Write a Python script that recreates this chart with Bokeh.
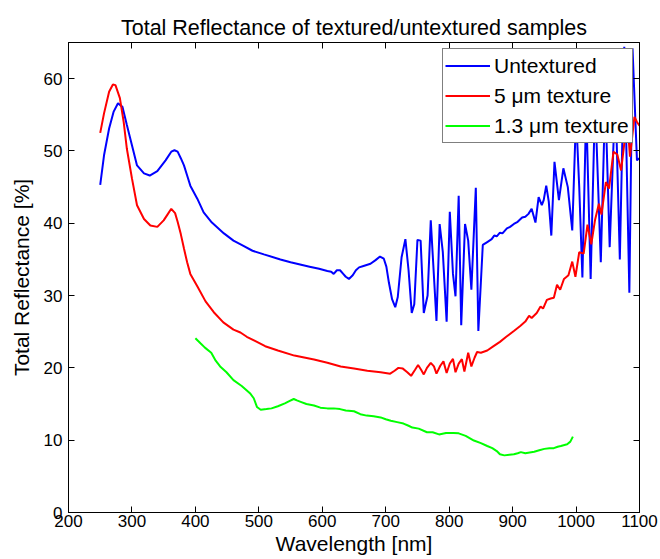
from bokeh.plotting import figure
from bokeh.models import LinearAxis, Range1d, FixedTicker, Legend, LegendItem
from bokeh.embed import file_html
from bokeh.resources import INLINE

title_text = "Total Reflectance of textured/untextured samples"
x_label = "Wavelength [nm]"
y_label = "Total Reflectance [%]"
series_names = ["Untextured", "5 \u03bcm texture", "1.3 \u03bcm texture"]
x_ticks = [200, 300, 400, 500, 600, 700, 800, 900, 1000, 1100]
y_ticks = [0, 10, 20, 30, 40, 50, 60]

blue_wl = [250, 256, 264, 271, 278, 285, 292, 300, 308, 319, 328, 340, 353, 362, 367, 372, 377, 382, 387, 392,
           403, 413, 426, 445, 460, 475, 490, 508, 534, 550, 565, 580, 595, 608, 614, 618, 623, 628, 633, 637,
           642, 648, 653, 658, 665, 676, 684, 691, 697, 701, 705, 710, 715, 719, 725, 731, 736, 741, 745, 750,
           755, 760, 766, 771, 780, 785, 790, 796, 801, 806, 810, 815, 819, 825, 830, 835, 842, 846, 853, 860,
           867, 871, 875, 880, 884, 891, 896, 902, 908, 915, 920, 925, 930, 936, 941, 946, 949, 953, 957, 961,
           966, 973, 980, 987, 994, 1000, 1005, 1010, 1016, 1023, 1030, 1039, 1046, 1053, 1062, 1069, 1076, 1084,
           1089, 1096, 1100]
blue_r = [45.3, 49.4, 53.1, 55.4, 56.6, 56.1, 53.6, 50.8, 48.0, 46.9, 46.6, 47.2, 48.7, 49.9, 50.1, 49.9, 49.0, 48.0, 46.6, 45.2,
          43.4, 41.5, 40.1, 38.6, 37.6, 36.9, 36.2, 35.7, 35.0, 34.6, 34.3, 34.0, 33.7, 33.4, 33.3, 33.0, 33.5, 33.5, 33.0, 32.6,
          32.3, 32.8, 33.5, 33.9, 34.1, 34.4, 34.9, 35.4, 35.1, 34.0, 31.8, 29.5, 28.4, 29.8, 35.3, 37.8, 33.5, 27.6, 28.8, 37.7,
          37.6, 27.6, 30.0, 40.4, 26.5, 39.9, 36.0, 26.4, 41.6, 33.0, 29.9, 43.8, 25.9, 39.9, 37.6, 30.8, 44.9, 25.1, 37.0, 37.4,
          37.8, 38.3, 38.2, 38.7, 38.6, 39.3, 39.5, 39.9, 40.2, 40.8, 40.9, 41.3, 42.0, 40.1, 43.6, 42.5, 43.2, 45.2, 43.0, 38.3,
          48.5, 43.2, 47.6, 45.0, 39.0, 55.0, 45.0, 32.5, 56.0, 32.3, 57.0, 34.6, 57.5, 36.7, 58.0, 35.0, 64.4, 30.4,
          64.2, 48.7, 49.0]

red_wl = [250, 256, 264, 270, 274, 281, 287, 292, 300, 308, 319, 329, 340, 350, 356, 362, 368, 372, 377, 382,
          387, 392, 403, 416, 429, 444, 460, 471, 481, 497, 510, 530, 556, 587, 608, 629, 650, 671, 692, 707,
          714, 720, 727, 734, 740, 746, 751, 756, 760, 765, 771, 776, 780, 786, 791, 796, 801, 806, 810, 815,
          820, 824, 830, 835, 840, 844, 850, 860, 870, 880, 890, 902, 912, 920, 926, 930, 938, 944, 948, 954,
          960, 965, 970, 975, 981, 988, 994, 999, 1005, 1012, 1018, 1024, 1030, 1036, 1040, 1047, 1052, 1059,
          1065, 1071, 1076, 1081, 1085, 1092, 1096, 1100]
red_r = [52.5, 55.2, 58.2, 59.2, 59.1, 57.3, 54.0, 50.3, 46.2, 42.5, 40.6, 39.7, 39.5, 40.4, 41.2, 42.0, 41.4, 40.2, 38.5, 36.5,
         34.6, 33.0, 31.3, 29.2, 27.7, 26.3, 25.3, 24.9, 24.3, 23.6, 23.0, 22.4, 21.7, 21.15, 20.7, 20.2, 19.9, 19.6, 19.4, 19.2,
         19.6, 20.0, 19.9, 19.4, 18.9, 19.7, 20.4, 19.7, 19.1, 20.0, 20.7, 20.2, 19.2, 20.3, 20.9, 19.3, 20.6, 21.25, 19.4, 20.6,
         21.2, 19.5, 22.1, 20.2, 21.4, 22.2, 22.1, 22.4, 23.0, 23.6, 24.3, 25.1, 25.8, 26.4, 27.2, 26.9, 27.6, 28.5, 28.2, 29.4,
         29.6, 29.7, 31.5, 30.8, 32.3, 32.8, 34.7, 32.6, 36.0, 35.8, 39.8, 37.1, 40.5, 42.7, 41.2, 45.7, 44.8, 49.9,
         49.5, 47.3, 51.0, 54.0, 49.2, 54.7, 54.0, 53.5]

green_wl = [400, 408, 415, 425, 432, 439, 449, 460, 473, 486, 492, 497, 503, 512, 520, 530, 541, 548, 555, 560,
            566, 575, 587, 597, 608, 618, 628, 637, 650, 660, 670, 681, 692, 700, 708, 718, 728, 736, 742, 752,
            765, 774, 784, 795, 807, 815, 826, 839, 850, 860, 868, 875, 880, 887, 895, 902, 908, 913, 920, 927,
            934, 942, 950, 958, 965, 971, 976, 986, 991, 995]
green_r = [24.1, 23.4, 22.8, 22.1, 21.0, 20.2, 19.4, 18.3, 17.5, 16.5, 15.8, 14.6, 14.2, 14.3, 14.4, 14.7, 15.1, 15.4, 15.7, 15.5,
           15.3, 15.0, 14.8, 14.5, 14.4, 14.4, 14.3, 14.1, 14.0, 13.6, 13.4, 13.3, 13.15, 12.9, 12.7, 12.5, 12.3, 12.0, 11.75, 11.6,
           11.1, 11.1, 10.8, 11.0, 11.0, 10.95, 10.6, 9.95, 9.6, 9.2, 8.9, 8.5, 8.05, 7.9, 8.0, 8.05, 8.2, 8.35, 8.2, 8.3,
           8.4, 8.6, 8.8, 8.9, 8.9, 9.1, 9.2, 9.45, 9.8, 10.5]

FONT = "Liberation Sans"

p = figure(width=660, height=559, output_backend="svg", toolbar_location=None,
           x_range=Range1d(200, 1100), y_range=Range1d(0, 65),
           min_border_left=68, min_border_right=21, min_border_top=42, min_border_bottom=47)
p.title.text = title_text
p.title.align = "center"
p.title.text_font = FONT
p.title.text_font_size = "21.5px"
p.title.text_font_style = "normal"
p.title.text_color = "black"
p.title.standoff = 6

p.xgrid.visible = False
p.ygrid.visible = False
p.outline_line_color = "black"
p.outline_line_width = 1
p.background_fill_color = "white"
p.border_fill_color = "white"

def style_axis(ax, ticks, show_labels):
    ax.ticker = FixedTicker(ticks=ticks)
    ax.major_tick_in = 6
    ax.major_tick_out = 0
    ax.minor_tick_line_color = None
    ax.axis_line_color = "black"
    ax.major_tick_line_color = "black"
    ax.major_label_text_font = FONT
    ax.major_label_text_color = "black"
    ax.axis_label_text_color = "black"
    if show_labels:
        ax.major_label_text_font_size = "17px"
    else:
        ax.major_label_overrides = {t: "" for t in ticks}
        ax.major_label_standoff = 0

xa = p.xaxis[0]
style_axis(xa, x_ticks, True)
xa.major_label_standoff = 2
xa.axis_label = x_label
xa.axis_label_text_font = FONT
xa.axis_label_text_font_size = "21px"
xa.axis_label_text_font_style = "normal"
xa.axis_label_standoff = 2

ya = p.yaxis[0]
style_axis(ya, y_ticks, True)
ya.major_label_standoff = 6
ya.axis_label = y_label
ya.axis_label_text_font = FONT
ya.axis_label_text_font_size = "21px"
ya.axis_label_text_font_style = "normal"
ya.axis_label_standoff = 8

top = LinearAxis()
style_axis(top, x_ticks, False)
p.add_layout(top, "above")
right = LinearAxis()
style_axis(right, y_ticks, False)
p.add_layout(right, "right")

r1 = p.line(blue_wl, blue_r, line_color="#0000FF", line_width=2)
r2 = p.line(red_wl, red_r, line_color="#FF0000", line_width=2)
r3 = p.line(green_wl, green_r, line_color="#00FF00", line_width=2)

legend = Legend(items=[LegendItem(label=series_names[0], renderers=[r1]),
                       LegendItem(label=series_names[1], renderers=[r2]),
                       LegendItem(label=series_names[2], renderers=[r3])],
                location="top_right")
legend.margin = 6
legend.padding = 2
legend.spacing = 1
legend.glyph_width = 45
legend.glyph_height = 29
legend.label_height = 29
legend.label_width = 136
legend.label_standoff = 4
legend.label_text_font = FONT
legend.label_text_font_size = "21px"
legend.label_text_color = "black"
legend.border_line_color = "black"
legend.border_line_width = 1
legend.background_fill_color = "white"
legend.background_fill_alpha = 1.0
p.add_layout(legend, "center")

open("out.html", "w").write(file_html(p, INLINE))
